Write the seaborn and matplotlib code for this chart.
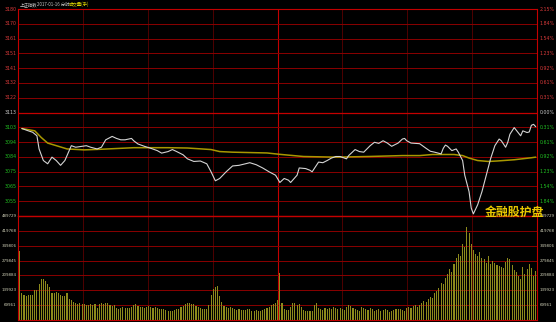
import matplotlib
matplotlib.use("Agg")
import matplotlib.pyplot as plt
import seaborn as sns
import pandas as pd
import numpy as np

sns.set_style("dark")
plt.rcParams['font.family'] = ['DejaVu Sans']

# ---------------- data ----------------
prev_close = 3112.76
title_name = "上证指数"
title_date = "2017-01-16 分时"
title_vol = "成交量(手)"
annotation = "金融股护盘"

price_min = [1, 4, 6, 8, 9, 11, 13, 15, 17, 19, 21, 23, 24, 26, 29, 31, 33, 36, 38, 40,
             43, 45, 47, 49, 52, 53, 55, 58, 61, 64, 66, 69, 71, 73, 76, 78, 81, 84, 87, 89,
             91, 93, 96, 99, 102, 105, 107, 110, 113, 116, 119, 121, 123, 125, 126, 129, 130, 133, 135, 136,
             138, 139, 141, 143, 145, 147, 149, 152, 153, 156, 158, 160, 163, 165, 167, 169, 171, 173, 176, 178,
             179, 180, 182, 184, 186, 189, 191, 193, 196, 197, 198, 199, 201, 203, 204, 206, 207, 209, 210, 211,
             213, 215, 217, 219, 221, 223, 224, 226, 227, 228, 230, 233, 234, 236, 237, 238, 239, 240]
price_val = [3102.4, 3100.9, 3100.0, 3097.7, 3089.2, 3081.7, 3079.6, 3083.9, 3081.7, 3078.6,
             3081.7, 3088.1, 3091.3, 3090.3, 3090.9, 3091.3, 3090.3, 3089.2, 3090.3, 3095.1,
             3097.3, 3096.0, 3095.1, 3095.1, 3096.0, 3094.5, 3092.4, 3090.9, 3089.6, 3088.1,
             3086.5, 3087.5, 3088.8, 3087.5, 3085.4, 3082.8, 3081.1, 3081.4, 3079.6, 3074.4,
             3068.6, 3070.1, 3074.4, 3078.2, 3078.6, 3079.6, 3080.3, 3079.0, 3076.9, 3074.4,
             3072.2, 3067.5, 3070.1, 3069.0, 3067.5, 3072.2, 3076.9, 3076.5, 3075.4, 3074.4,
             3078.6, 3080.7, 3080.3, 3081.7, 3083.3, 3084.3, 3084.3, 3082.8, 3084.9, 3088.8,
             3087.5, 3087.1, 3091.3, 3093.5, 3092.8, 3094.5, 3093.0, 3090.9, 3093.0, 3095.6,
             3096.0, 3094.5, 3093.0, 3092.8, 3092.6, 3089.6, 3087.7, 3087.1, 3086.0, 3089.6,
             3091.7, 3090.9, 3088.1, 3089.2, 3087.1, 3081.7, 3072.2, 3061.6, 3051.0, 3047.2,
             3053.1, 3061.6, 3072.2, 3082.8, 3091.3, 3095.6, 3094.5, 3090.3, 3093.5, 3098.7,
             3103.0, 3097.7, 3100.9, 3099.8, 3100.2, 3104.5, 3105.1, 3103.6]

avg_min = [1, 7, 10, 13, 18, 22, 30, 38, 53, 69, 78, 89, 93, 99, 115, 121, 132, 147, 162, 178,
           186, 192, 202, 206, 209, 213, 218, 222, 230, 238, 240]
avg_val = [3102.4, 3100.9, 3096.6, 3093.0, 3090.9, 3089.2, 3088.6, 3089.0, 3090.0, 3090.0,
           3089.8, 3088.8, 3087.5, 3087.1, 3086.6, 3085.7, 3084.3, 3083.9, 3084.3, 3084.9,
           3084.9, 3085.6, 3085.6, 3084.9, 3083.3, 3081.7, 3081.1, 3081.4, 3082.2, 3083.5, 3083.9]

volume = [326000, 125000, 117000, 112000, 120000, 117000, 117000, 140000, 140000, 171000,
          194000, 191000, 183000, 171000, 155000, 125000, 127000, 132000, 125000, 117000,
          112000, 112000, 125000, 101000, 93000, 85000, 78000, 73000, 78000, 73000,
          76000, 70000, 70000, 73000, 70000, 73000, 57000, 73000, 78000, 73000,
          78000, 78000, 70000, 67000, 70000, 57000, 54000, 57000, 62000, 57000,
          57000, 57000, 62000, 70000, 73000, 67000, 62000, 62000, 57000, 62000,
          67000, 62000, 57000, 62000, 57000, 54000, 51000, 50000, 45000, 42000,
          42000, 42000, 45000, 50000, 54000, 62000, 67000, 73000, 82000, 78000,
          76000, 73000, 67000, 62000, 57000, 54000, 51000, 51000, 70000, 117000,
          148000, 155000, 160000, 113000, 85000, 67000, 62000, 57000, 61000, 57000,
          54000, 47000, 51000, 47000, 47000, 48000, 51000, 50000, 43000, 43000,
          45000, 43000, 43000, 47000, 54000, 57000, 61000, 70000, 73000, 82000,
          93000, 222000, 78000, 54000, 47000, 47000, 62000, 82000, 78000, 70000,
          73000, 62000, 47000, 42000, 42000, 42000, 42000, 70000, 78000, 57000,
          51000, 47000, 57000, 54000, 57000, 51000, 62000, 57000, 54000, 57000,
          51000, 47000, 62000, 70000, 67000, 57000, 51000, 47000, 42000, 62000,
          57000, 50000, 45000, 57000, 50000, 43000, 45000, 50000, 43000, 45000,
          50000, 45000, 40000, 43000, 45000, 50000, 54000, 50000, 45000, 43000,
          55000, 60000, 57000, 65000, 70000, 62000, 72000, 80000, 90000, 85000,
          100000, 110000, 105000, 125000, 135000, 150000, 175000, 170000, 200000, 215000,
          240000, 225000, 265000, 290000, 310000, 300000, 360000, 345000, 440000, 410000,
          360000, 330000, 310000, 300000, 320000, 290000, 285000, 270000, 300000, 265000,
          280000, 270000, 260000, 255000, 250000, 245000, 275000, 290000, 285000, 258000,
          235000, 225000, 205000, 195000, 250000, 215000, 240000, 262000, 245000, 205000, 230000]
vol_minutes = list(range(len(volume)))

price_labels_up = ["3122", "3132", "3141", "3151", "3161", "3170", "3180"]
price_labels_dn = ["3103", "3094", "3084", "3075", "3065", "3055"]
pct_labels = ["0.31%", "0.61%", "0.92%", "1.23%", "1.54%", "1.84%", "2.15%"]
vol_labels = ["69961", "139923", "209884", "279845", "349806", "419768", "489729"]
vol_step = 69961.3

# ---------------- figure ----------------
W, H = 556, 322
fig = plt.figure(figsize=(W / 100, H / 100), dpi=100, facecolor="black")
left, right = 18, 537
top_p, bot_p, bot_v = 9, 216, 320
ax_p = fig.add_axes([left / W, 1 - bot_p / H, (right - left) / W, (bot_p - top_p) / H])
ax_v = fig.add_axes([left / W, 1 - bot_v / H, (right - left) / W, (bot_v - bot_p) / H])

GRID = "#8a0000"
GRID_V = "#5c0000"
BRIGHT = "#c40000"
RED_T = "#d83a3a"
GREEN_T = "#22c022"
WHITE_T = "#c8c8c8"
VOL_T = "#d0d0b8"

step = prev_close * 0.0215 / 7
xlo, xhi = -0.8, 240.6

for ax in (ax_p, ax_v):
    ax.set_facecolor("black")
    ax.set_xlim(xlo, xhi)
    ax.set_xticks([])
    ax.set_yticks([])
    ax.grid(False)
    for s in ax.spines.values():
        s.set_color(BRIGHT)
        s.set_linewidth(0.8)
    for k in range(1, 8):
        xv = xlo + k * (xhi - xlo) / 8
        ax.axvline(xv, color=BRIGHT if k == 4 else GRID_V, lw=0.8 if k == 4 else 0.6, zorder=0)

# price grid
ax_p.set_ylim(prev_close - 7 * step, prev_close + 7 * step)
for k in range(-6, 7):
    y = prev_close + k * step
    ax_p.axhline(y, color=BRIGHT if k == 0 else GRID, lw=0.9 if k == 0 else 0.7, zorder=0)

# volume grid
ax_v.set_ylim(0, 7 * vol_step)
for j in range(1, 7):
    ax_v.axhline(j * vol_step, color=GRID, lw=0.7, zorder=0)
ax_v.spines["top"].set_linewidth(1.0)

# data
dfp = pd.DataFrame({"m": price_min, "p": price_val})
dfa = pd.DataFrame({"m": avg_min, "p": avg_val})
dfv = pd.DataFrame({"m": vol_minutes, "v": volume})
sns.lineplot(data=dfa, x="m", y="p", ax=ax_p, color="#a89800", lw=1.1, sort=False, estimator=None)
sns.lineplot(data=dfp, x="m", y="p", ax=ax_p, color="#d4d4d4", lw=0.8, sort=False, estimator=None)
sns.barplot(data=dfv, x="m", y="v", ax=ax_v, native_scale=True, color="#8c8a1c",
            width=0.5, saturation=1, linewidth=0, edgecolor="none")
for ax in (ax_p, ax_v):
    ax.set_xlabel("")
    ax.set_ylabel("")
    ax.set_xlim(xlo, xhi)
    ax.set_xticks([])
ax_v.set_ylim(0, 7 * vol_step)
ax_p.set_ylim(prev_close - 7 * step, prev_close + 7 * step)

# labels
fs = 3.4
fsv = 2.9
lx = (left - 1.5) / W
rx = (right + 2.5) / W
def fy(val, ax):
    disp = ax.transData.transform((0, val))
    return fig.transFigure.inverted().transform(disp)[1]

for k, lab in enumerate(price_labels_up, start=1):
    yy = fy(prev_close + k * step, ax_p)
    fig.text(lx, yy, lab, ha="right", va="center", fontsize=fs, color=RED_T)
    fig.text(rx, yy, pct_labels[k - 1], ha="left", va="center", fontsize=fs, color=RED_T)
yy = fy(prev_close, ax_p)
fig.text(lx, yy, f"{prev_close:.0f}", ha="right", va="center", fontsize=fs, color=WHITE_T)
fig.text(rx, yy, "0.00%", ha="left", va="center", fontsize=fs, color=WHITE_T)
for k, lab in enumerate(price_labels_dn, start=1):
    yy = fy(prev_close - k * step, ax_p)
    fig.text(lx, yy, lab, ha="right", va="center", fontsize=fs, color=GREEN_T)
    fig.text(rx, yy, pct_labels[k - 1], ha="left", va="center", fontsize=fs, color=GREEN_T)
for j, lab in enumerate(vol_labels, start=1):
    yy = fy(j * vol_step, ax_v)
    fig.text(lx, yy, lab, ha="right", va="center", fontsize=fsv, color=VOL_T)
    fig.text(rx, yy, lab, ha="left", va="center", fontsize=fsv, color=VOL_T)

cjk = ["Noto Sans CJK SC", "DejaVu Sans"]
ty = 1 - 4.5 / H
fig.text(20 / W, ty, title_name, fontsize=3.2, color=WHITE_T, va="center", family=cjk)
fig.text(37 / W, ty, title_date, fontsize=3.2, color=WHITE_T, va="center", family=cjk)
fig.text(69 / W, ty, title_vol, fontsize=3.2, color="#d8d000", va="center", family=cjk)

fig.text(485 / W, 1 - 212 / H, annotation, fontsize=8.6, color="#e8c800", weight="bold",
         va="center", ha="left", family=cjk)

fig.savefig("out.png", dpi=100, facecolor="black")
